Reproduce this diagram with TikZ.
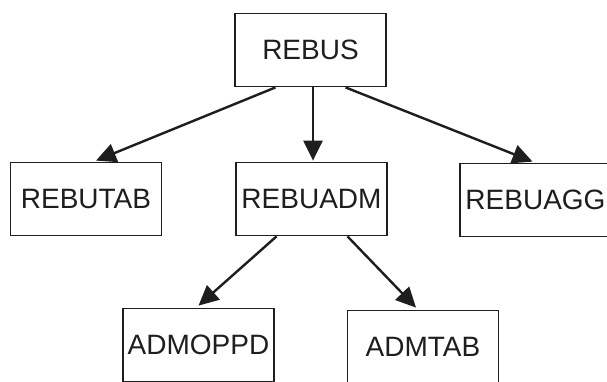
\documentclass[tikz,border=0pt]{standalone}
\usepackage{fontspec}
\setmainfont{Liberation Sans}
\usetikzlibrary{arrows.meta,calc}
\definecolor{ink}{HTML}{1E1E1E}
\begin{document}
\begin{tikzpicture}[x=1pt,y=-1pt,
  box/.style={draw=ink,line width=1.8pt,minimum width=151pt,minimum height=73pt,inner sep=0pt,
    text=ink,font=\fontsize{28}{32}\selectfont},
  arr/.style={draw=ink,line width=2.4pt,-{Triangle[length=20pt,width=19pt]}}]
\clip (0,0) rectangle (607,381);
\fill[white] (0,0) rectangle (607,381);
\node[box] (rebus) at (310.5,50) {REBUS};
\node[box] (rebutab) at (86,199) {REBUTAB};
\node[box] (rebuadm) at (311.5,199) {REBUADM};
\node[box] (rebuagg) at (535.5,200) {REBUAGG};
\node[box] (admoppd) at (198.5,345) {ADMOPPD};
\node[box] (admtab) at (423,347) {ADMTAB};
\draw[arr] ($(rebus.south)+(-35,0)$) -- ($(rebutab.north)+(10,-1)$);
\draw[arr] ($(rebus.south)+(2.5,0)$) -- ($(rebuadm.north)+(1.5,-1)$);
\draw[arr] ($(rebus.south)+(35,0)$) -- ($(rebuagg.north)+(-3,-1)$);
\draw[arr] ($(rebuadm.south)+(-35,0)$) -- ($(admoppd.north)+(0,-2)$);
\draw[arr] ($(rebuadm.south)+(36,0)$) -- ($(admtab.north)+(-7,-2)$);
\end{tikzpicture}
\end{document}
